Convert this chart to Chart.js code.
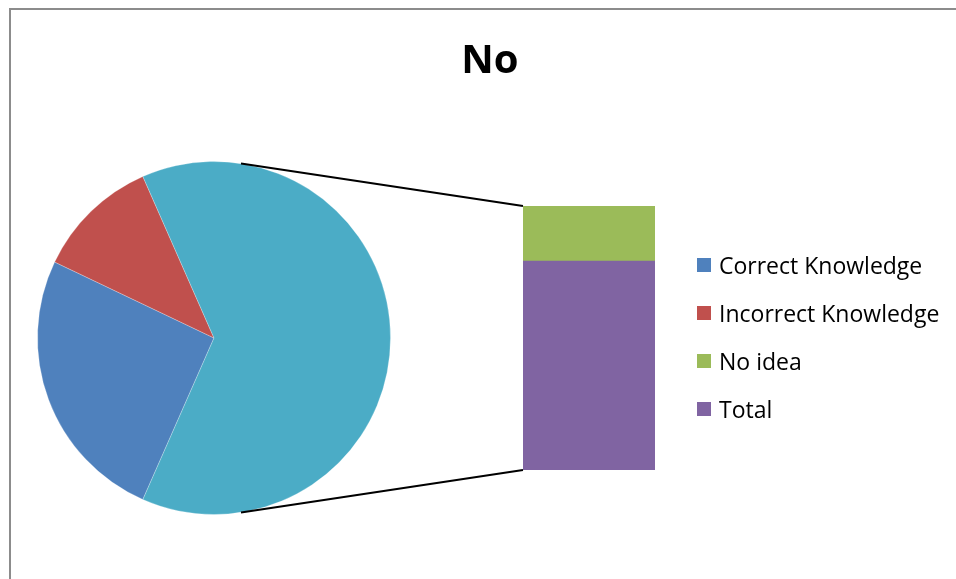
<!DOCTYPE html>
<html>
<head>
<meta charset="utf-8">
<script src="https://cdn.jsdelivr.net/npm/chart.js@4.4.1/dist/chart.umd.min.js"></script>
<style>
  html, body { margin: 0; padding: 0; background: #fff; overflow: hidden; width: 956px; height: 579px; }
  #frame { position: absolute; left: 9px; top: 8px; width: 1000px; height: 700px; border: 2px solid #8c8c8c; box-sizing: border-box; }
  canvas { position: absolute; left: 0; top: 0; }
  #title { position: absolute; left: 390px; width: 200px; top: 38px; text-align: center;
           font: bold 40px/40px "Open Sans", sans-serif; color: #000; }
  #legend { position: absolute; left: 697px; top: 241px; font: 23px "Open Sans", sans-serif; color: #000; }
  #legend .row { height: 48px; display: flex; align-items: center; white-space: nowrap; }
  #legend .sw { width: 14px; height: 14px; margin-right: 8px; }
</style>
</head>
<body>
<div id="frame"></div>
<canvas id="cPie" width="956" height="579"></canvas>
<canvas id="cBar" width="956" height="579"></canvas>
<div id="title">No</div>
<div id="legend"></div>

<script>
// ── DATA ─────────────────────────────────────────────────────
const TITLE      = 'No';
const categories = ['Correct Knowledge', 'Incorrect Knowledge', 'No idea', 'Total'];
const values     = [27, 12, 14, 53];
const colors     = ['#4F81BD', '#C0504D', '#9BBB59', '#8064A2'];
const otherColor = '#4BACC6';
const splitCount = 2;           // last N categories go to the secondary bar

// ── STYLE ────────────────────────────────────────────────────
const CONNECT_SPREAD = 81.2 * Math.PI / 180; // connector angle either side of "Other" slice

document.getElementById('title').textContent = TITLE;

const pieLabels = categories.slice(0, categories.length - splitCount).concat(['Other']);
const pieValues = values.slice(0, values.length - splitCount)
  .concat([values.slice(-splitCount).reduce((a, b) => a + b, 0)]);
const pieColors = colors.slice(0, colors.length - splitCount).concat([otherColor]);

// rotate so the "Other" slice is centred on the right
const sum = pieValues.reduce((a, b) => a + b, 0);
const otherDeg = pieValues[pieValues.length - 1] / sum * 360;
const rotation = 90 - otherDeg / 2 - (360 - otherDeg);

// ── PIE ──────────────────────────────────────────────────────
const pieChart = new Chart(document.getElementById('cPie'), {
  type: 'pie',
  data: {
    labels: pieLabels,
    datasets: [{
      data: pieValues,
      backgroundColor: pieColors,
      borderColor: 'rgba(255,255,255,0.25)',
      borderWidth: 1,
    }],
  },
  options: {
    responsive: false,
    animation: false,
    events: [],
    rotation,
    layout: { padding: { left: 37, right: 565, top: 161, bottom: 64 } },
    plugins: { legend: { display: false }, tooltip: { enabled: false } },
  },
});

// ── CONNECTOR LINES ──────────────────────────────────────────
const connectorPlugin = {
  id: 'connectors',
  afterDraw(chart) {
    const arc = pieChart.getDatasetMeta(0).data[pieValues.length - 1];
    const metas = chart.getSortedVisibleDatasetMetas();
    const bottomBar = metas[0].data[0];
    const topBar = metas[metas.length - 1].data[0];
    const left = topBar.x - topBar.width / 2;
    const mid = (arc.startAngle + arc.endAngle) / 2;
    const r = arc.outerRadius;
    const ctx = chart.ctx;
    ctx.save();
    ctx.strokeStyle = '#000';
    ctx.lineWidth = 2;
    ctx.beginPath();
    ctx.moveTo(arc.x + r * Math.cos(mid - CONNECT_SPREAD), arc.y + r * Math.sin(mid - CONNECT_SPREAD));
    ctx.lineTo(left, topBar.y);
    ctx.moveTo(arc.x + r * Math.cos(mid + CONNECT_SPREAD), arc.y + r * Math.sin(mid + CONNECT_SPREAD));
    ctx.lineTo(left, bottomBar.base);
    ctx.stroke();
    ctx.restore();
  },
};

// ── BAR (secondary) ──────────────────────────────────────────
const secLabels = categories.slice(-splitCount).reverse();
const secValues = values.slice(-splitCount).reverse();
const secColors = colors.slice(-splitCount).reverse();

new Chart(document.getElementById('cBar'), {
  type: 'bar',
  data: {
    labels: [''],
    datasets: secLabels.map((l, i) => ({
      label: l,
      data: [secValues[i]],
      backgroundColor: secColors[i],
      borderWidth: 0,
      barPercentage: 1,
      categoryPercentage: 1,
    })),
  },
  options: {
    responsive: false,
    animation: false,
    events: [],
    layout: { padding: { left: 523, right: 301, top: 206, bottom: 109 } },
    scales: {
      x: { display: false, stacked: true },
      y: { display: false, stacked: true, min: 0, max: secValues.reduce((a, b) => a + b, 0) },
    },
    plugins: { legend: { display: false }, tooltip: { enabled: false } },
  },
  plugins: [connectorPlugin],
});

// ── LEGEND ───────────────────────────────────────────────────
const legend = document.getElementById('legend');
categories.forEach((c, i) => {
  const row = document.createElement('div');
  row.className = 'row';
  const sw = document.createElement('span');
  sw.className = 'sw';
  sw.style.background = colors[i];
  const tx = document.createElement('span');
  tx.textContent = c;
  row.appendChild(sw);
  row.appendChild(tx);
  legend.appendChild(row);
});
</script>
</body>
</html>
